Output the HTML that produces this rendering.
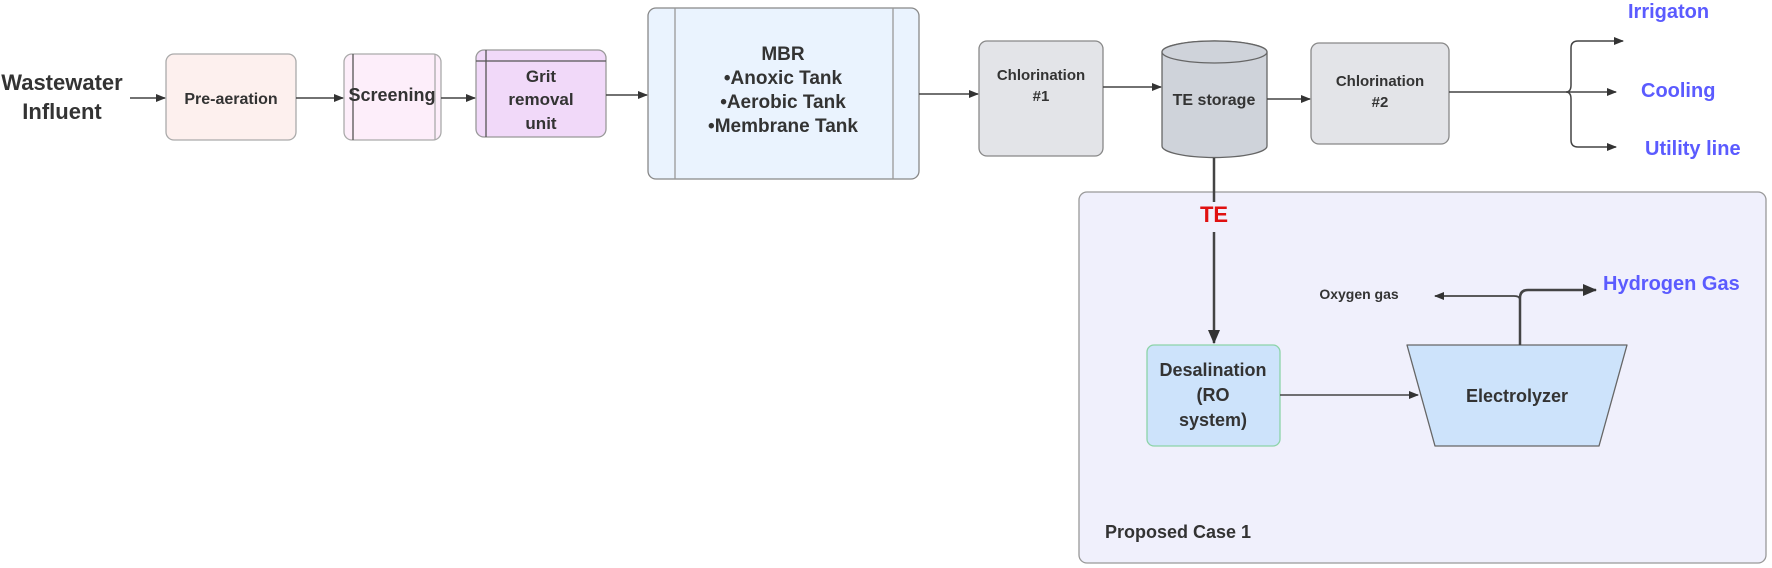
<!DOCTYPE html>
<html><head><meta charset="utf-8"><style>html,body{margin:0;padding:0;background:#fff}svg{display:block}text{font-family:"Liberation Sans",sans-serif;font-weight:bold}</style></head>
<body>
<svg width="1772" height="568" viewBox="0 0 1772 568" xmlns="http://www.w3.org/2000/svg">
<defs>
<marker id="a" markerWidth="10" markerHeight="10" refX="9" refY="5" orient="auto" markerUnits="userSpaceOnUse"><path d="M0,1 L10,5 L0,9 z" fill="#333"/></marker>
<marker id="b" markerWidth="14" markerHeight="14" refX="13" refY="7" orient="auto" markerUnits="userSpaceOnUse"><path d="M0,1 L14,7 L0,13 z" fill="#333"/></marker>
</defs>
<g stroke="#555" stroke-width="1.3">
<rect x="166" y="54" width="130" height="86" rx="8" fill="#fdf0ee" stroke="#aaa"/>
<rect x="344" y="54" width="97" height="86" rx="8" fill="#fdeefa" stroke="#aaa"/>
<line x1="353" y1="54" x2="353" y2="140"/><line x1="435" y1="54" x2="435" y2="140" stroke="#aaa"/>
<rect x="476" y="50" width="130" height="87" rx="8" fill="#f1d9f9" stroke="#999"/>
<line x1="486" y1="50" x2="486" y2="137"/><line x1="476" y1="61" x2="606" y2="61"/>
<rect x="648" y="8" width="271" height="171" rx="8" fill="#eaf3fe" stroke="#888"/>
<line x1="675" y1="8" x2="675" y2="179" stroke="#999"/><line x1="893" y1="8" x2="893" y2="179" stroke="#999"/>
<rect x="979" y="41" width="124" height="115" rx="8" fill="#e3e4e8" stroke="#888"/>
<rect x="1311" y="43" width="138" height="101" rx="8" fill="#e3e4e8" stroke="#888"/>
<path d="M1162,52 L1162,146 A50,11 0 0 0 1267,146 L1267,52 A52,11 0 0 0 1162,52 Z" fill="#cfd3da" stroke="#666"/>
<ellipse cx="1214.5" cy="52" rx="52.5" ry="11" fill="#cfd3da" stroke="#666"/>
<rect x="1079" y="192" width="687" height="371" rx="8" fill="#f0f0fc" stroke="#999"/>
<rect x="1147" y="345" width="133" height="101" rx="7" fill="#cde3fb" stroke="#8cd4a8"/>
<path d="M1407,345 L1627,345 L1599,446 L1435,446 Z" fill="#cde3fb" stroke="#666" stroke-linejoin="round"/>
</g>
<g stroke="#444" stroke-width="1.5" fill="none">
<line x1="130" y1="98" x2="165" y2="98" marker-end="url(#a)"/>
<line x1="296" y1="98" x2="343" y2="98" marker-end="url(#a)"/>
<line x1="441" y1="98" x2="475" y2="98" marker-end="url(#a)"/>
<line x1="606" y1="95" x2="647" y2="95" marker-end="url(#a)"/>
<line x1="919" y1="94" x2="978" y2="94" marker-end="url(#a)"/>
<line x1="1103" y1="87" x2="1161" y2="87" marker-end="url(#a)"/>
<line x1="1267" y1="99" x2="1310" y2="99" marker-end="url(#a)"/>
<line x1="1449" y1="92" x2="1566" y2="92"/>
<path d="M1622,41 L1578,41 Q1571,41 1571,48 L1571,85 Q1571,92 1566,92 Q1571,92 1571,99 L1571,140 Q1571,147 1578,147 L1616,147" marker-end="url(#a)"/>
<line x1="1566" y1="92" x2="1616" y2="92" marker-end="url(#a)"/>
<line x1="1622" y1="41" x2="1623" y2="41" marker-end="url(#a)"/>
<line x1="1214" y1="158" x2="1214" y2="202" stroke-width="2.5"/>
<line x1="1214" y1="232" x2="1214" y2="343" stroke-width="2.5" marker-end="url(#b)"/>
<line x1="1280" y1="395" x2="1418" y2="395" marker-end="url(#a)"/>
<path d="M1520,345 L1520,298 Q1520,290 1528,290 L1596,290" stroke-width="2.5" marker-end="url(#b)"/>
<path d="M1520,300 Q1520,296 1514,296 L1435,296" stroke-width="1.8" marker-end="url(#a)"/>
</g>
<g fill="#333" text-anchor="middle">
<text x="62" y="90" font-size="22">Wastewater</text>
<text x="62" y="119" font-size="22">Influent</text>
<text x="231" y="104" font-size="16">Pre-aeration</text>
<text x="392" y="101" font-size="18">Screening</text>
<text x="541" y="82" font-size="17">Grit</text>
<text x="541" y="105" font-size="17">removal</text>
<text x="541" y="129" font-size="17">unit</text>
<text x="783" y="60" font-size="19">MBR</text>
<text x="783" y="84" font-size="19">•Anoxic Tank</text>
<text x="783" y="108" font-size="19">•Aerobic Tank</text>
<text x="783" y="132" font-size="19">•Membrane Tank</text>
<text x="1041" y="80" font-size="15">Chlorination</text>
<text x="1041" y="101" font-size="15">#1</text>
<text x="1380" y="86" font-size="15">Chlorination</text>
<text x="1380" y="107" font-size="15">#2</text>
<text x="1214" y="105" font-size="16">TE storage</text>
<text x="1214" y="222" font-size="22" fill="#e01010">TE</text>
<text x="1213" y="376" font-size="18">Desalination</text>
<text x="1213" y="401" font-size="18">(RO</text>
<text x="1213" y="426" font-size="18">system)</text>
<text x="1517" y="402" font-size="18">Electrolyzer</text>
<text x="1359" y="299" font-size="14">Oxygen gas</text>
</g>
<g fill="#5b5bff" font-size="20">
<text x="1628" y="18">Irrigaton</text>
<text x="1641" y="97">Cooling</text>
<text x="1645" y="155">Utility line</text>
<text x="1603" y="290">Hydrogen Gas</text>
</g>
<text x="1105" y="538" font-size="18" fill="#333">Proposed Case 1</text>
</svg>
</body></html>
